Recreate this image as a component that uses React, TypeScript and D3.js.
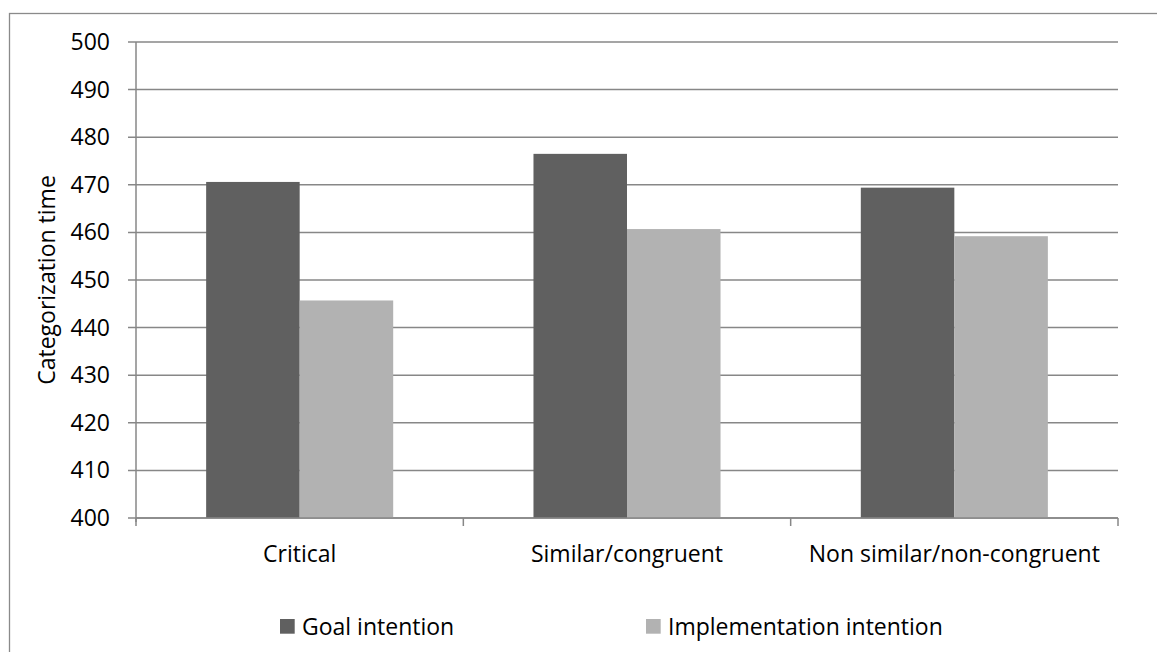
import * as d3 from "d3";

const categories = ["Critical", "Similar/congruent", "Non similar/non-congruent"];
const seriesNames = ["Goal intention", "Implementation intention"];
const goalValues = [470.6, 476.5, 469.4];
const implValues = [445.7, 460.7, 459.2];
const yTicks = [400, 410, 420, 430, 440, 450, 460, 470, 480, 490, 500];
const colors = ["#606060", "#b2b2b2"];

const W = 1157;
const H = 652;
const left = 136;
const right = 1118;
const top = 42;
const bottom = 518;
const font = "'Open Sans', sans-serif";

const App = () => {
  const x = d3.scaleBand().domain(categories).range([left, right]).padding(0);
  const y = d3.scaleLinear().domain([400, 500]).range([bottom, top]);
  // excel style: gap width 150%
  const barW = x.bandwidth() / 3.5;
  const inner = d3
    .scaleBand()
    .domain(seriesNames)
    .range([barW * 0.75, barW * 2.75])
    .padding(0);
  const series = [goalValues, implValues];
  const grid = "#878787";

  return (
    <svg
      width={W}
      height={H}
      style={{ position: "absolute", left: 0, top: 0, background: "#fff" }}
      fontFamily={font}
    >
      <rect x={9.5} y={13.5} width={1300} height={800} fill="none" stroke="#8a8a8a" strokeWidth={1.3} />

      {/* gridlines + y ticks */}
      {yTicks.map((t) => (
        <g key={t}>
          <line x1={left - 8} x2={right} y1={y(t)} y2={y(t)} stroke={grid} strokeWidth={1.5} />
          <text x={110} y={y(t) + 8} textAnchor="end" fontSize={23} fill="#000">
            {t}
          </text>
        </g>
      ))}

      {/* bars */}
      {categories.map((c, i) => (
        <g key={c} transform={`translate(${x(c)},0)`}>
          {series.map((vals, s) => (
            <rect
              key={s}
              x={inner(seriesNames[s])}
              y={y(vals[i])}
              width={inner.bandwidth()}
              height={y(400) - y(vals[i])}
              fill={colors[s]}
            />
          ))}
        </g>
      ))}

      {/* axes */}
      <line x1={left} x2={left} y1={top} y2={bottom + 4} stroke={grid} strokeWidth={1.5} />
      <line x1={left} x2={right} y1={bottom} y2={bottom} stroke={grid} strokeWidth={1.5} />
      {[left, ...categories.map((c) => (x(c) as number) + x.bandwidth())].map((p, i) => (
        <line key={i} x1={p} x2={p} y1={bottom} y2={bottom + 8} stroke={grid} strokeWidth={1.5} />
      ))}

      {categories.map((c) => (
        <text
          key={c}
          x={(x(c) as number) + x.bandwidth() / 2}
          y={561.5}
          textAnchor="middle"
          fontSize={23}
          fill="#000"
        >
          {c}
        </text>
      ))}

      <text
        transform={`translate(55,${(top + bottom) / 2}) rotate(-90)`}
        textAnchor="middle"
        fontSize={23}
        fill="#000"
      >
        Categorization time
      </text>

      {/* legend */}
      {seriesNames.map((n, s) => {
        const lx = [280, 646][s];
        return (
          <g key={n}>
            <rect x={lx} y={619} width={14.7} height={14.7} fill={colors[s]} />
            <text x={lx + 22} y={634.5} fontSize={23} fill="#000">
              {n}
            </text>
          </g>
        );
      })}
    </svg>
  );
};

export default App;
